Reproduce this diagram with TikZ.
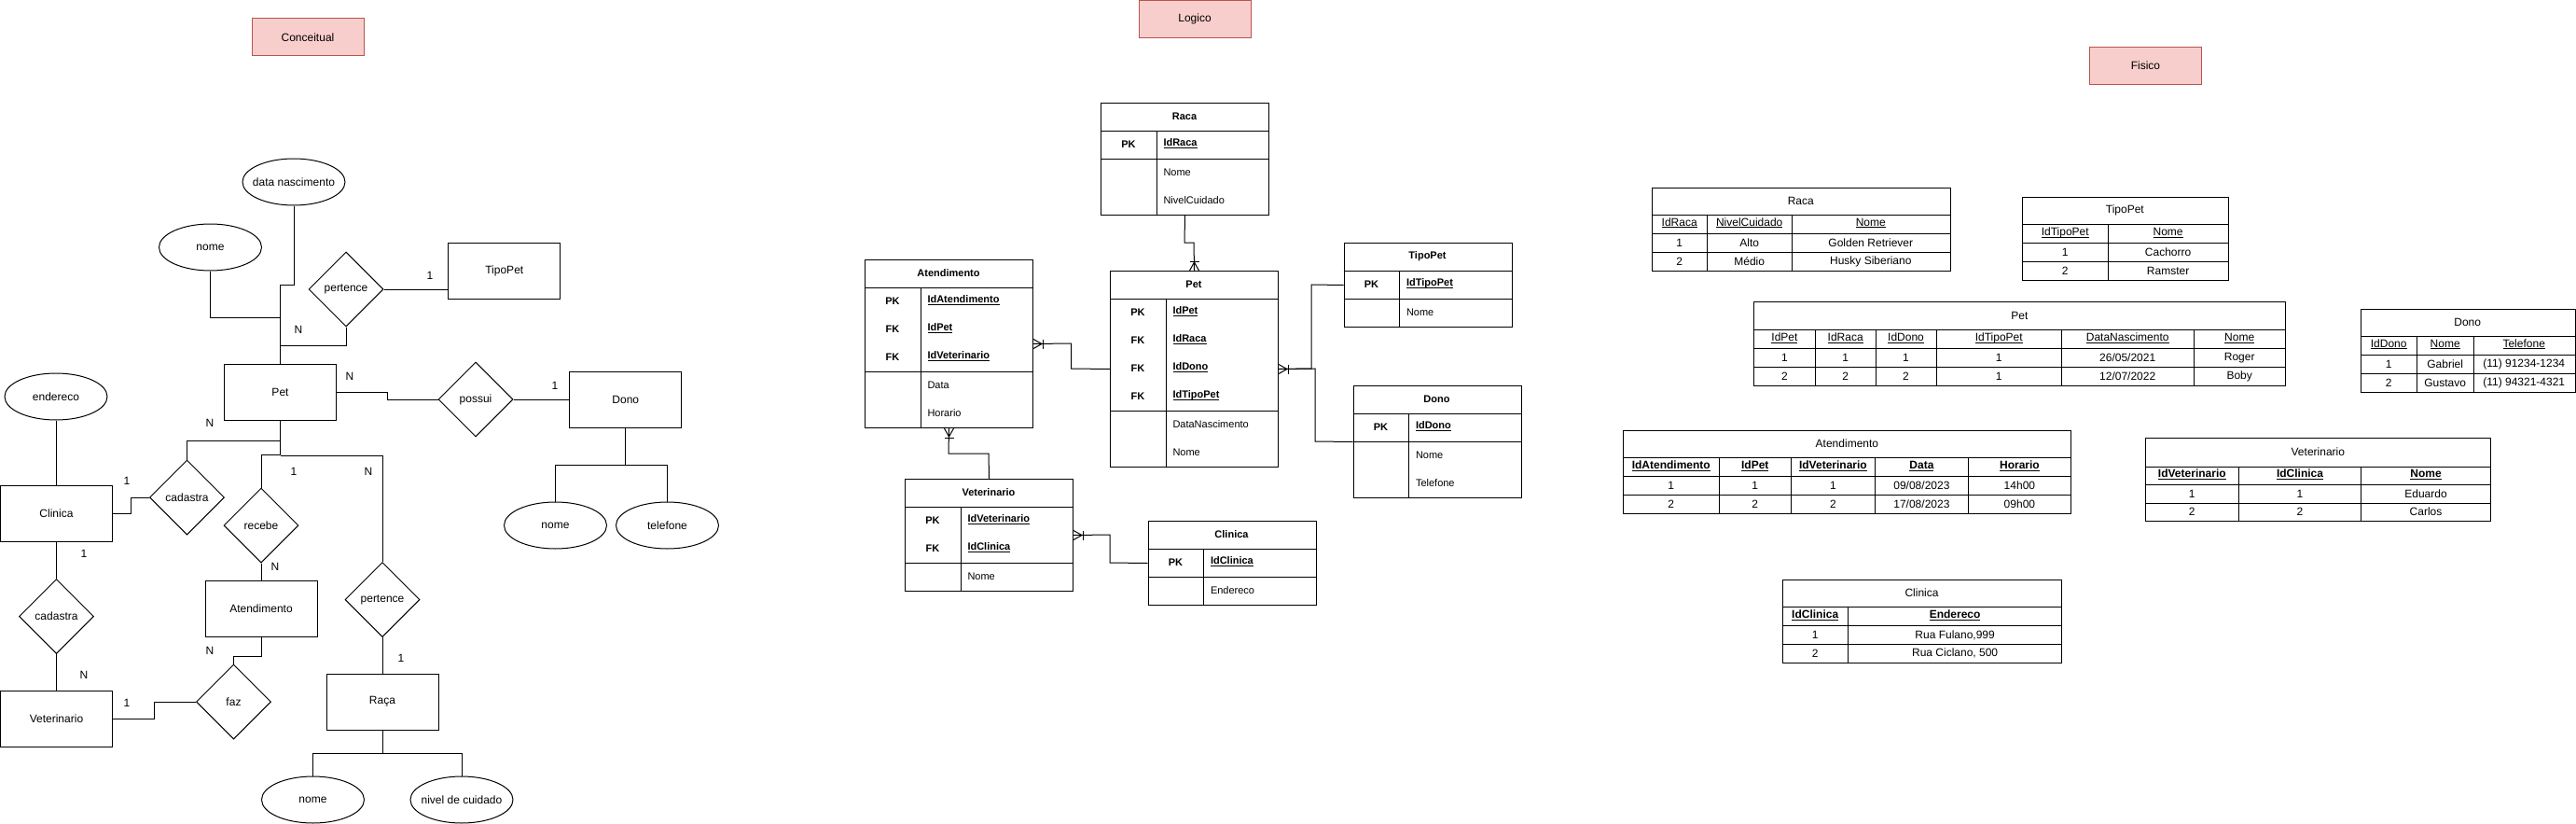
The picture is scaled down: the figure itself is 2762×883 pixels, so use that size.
\documentclass[tikz,border=0pt]{standalone}
\usepackage{fontspec}
\setmainfont{Liberation Sans}
\usetikzlibrary{shapes.geometric}
\definecolor{pinkfill}{HTML}{F8CECC}
\definecolor{pinkdraw}{HTML}{B85450}
\newcommand\uln[1]{\underline{\smash{#1}\vphantom{x}}}
\newcommand\bul[1]{\textbf{\uln{#1}}}
\begin{document}
\begin{tikzpicture}[x=1pt,y=-1pt,line width=1pt,
 ent/.style={draw, rectangle, minimum width=120pt, minimum height=60pt, inner sep=0pt, font=\fontsize{12}{14}\selectfont},
 attr/.style={draw, ellipse, minimum width=110pt, minimum height=50pt, inner sep=0pt, font=\fontsize{12}{14}\selectfont},
 rel/.style={draw, diamond, minimum width=80pt, minimum height=80pt, inner sep=0pt, font=\fontsize{12}{14}\selectfont},
 card/.style={inner sep=0pt, font=\fontsize{12}{14}\selectfont},
 ttl/.style={draw=pinkdraw, fill=pinkfill, minimum width=120pt, minimum height=40pt, inner sep=0pt, font=\fontsize{12}{14}\selectfont},
 ltab/.style={draw, rectangle, minimum width=180pt, inner sep=0pt, anchor=north west},
 lhead/.style={inner sep=0pt, font=\fontsize{11}{13}\selectfont\bfseries},
 lkey/.style={inner sep=0pt, font=\fontsize{11}{13}\selectfont\bfseries},
 lfld/.style={inner sep=0pt, anchor=west, font=\fontsize{11}{13}\selectfont},
 ptab/.style={draw, rectangle, inner sep=0pt, anchor=north west},
 ptxt/.style={inner sep=0pt, font=\fontsize{12}{14}\selectfont},
 crow/.pic={\draw (0,-5) -- (9,0) -- (0,5); \draw (10,-5) -- (10,5);}
]
\useasboundingbox (0,0) rectangle (2762,883);

% ---------- titles
\node[ttl] (tcon) at (330,40) {Conceitual};
\node[ttl] (tlog) at (1281,20.8) {Logico};
\node[ttl] (tfis) at (2300.4,70.3) {Fisico};

% ---------- conceptual
\node[attr] (cdn) at (315,195) {\makebox[0pt]{data nascimento}};
\node[attr] (cnome) at (225.5,265) {\makebox[0pt]{nome}};
\node[rel] (cpert1) at (371,310) {\makebox[0pt]{pertence}};
\node[ent] (ctipo) at (540.8,290) {TipoPet};
\node[ent] (cpet) at (300.5,420) {Pet};
\node[rel] (cposs) at (510,428) {\makebox[0pt]{possui}};
\node[ent] (cdono) at (670.8,428) {Dono};
\node[attr] (cend) at (60,425) {\makebox[0pt]{endereco}};
\node[rel] (ccad1) at (200.5,533) {\makebox[0pt]{cadastra}};
\node[ent] (cclin) at (60.5,550) {Clinica};
\node[rel] (ccad2) at (60.5,660.5) {\makebox[0pt]{cadastra}};
\node[ent] (cvet) at (60.5,770) {Veterinario};
\node[rel] (cfaz) at (250.5,752) {\makebox[0pt]{faz}};
\node[ent] (catend) at (280,652) {Atendimento};
\node[rel] (creceb) at (280,563) {\makebox[0pt]{recebe}};
\node[rel] (cpert2) at (410,642.5) {\makebox[0pt]{pertence}};
\node[ent] (craca) at (410,752) {Raça};
\node[attr] (cnome2) at (335.5,857) {\makebox[0pt]{nome}};
\node[attr] (cnivel) at (495,857) {\makebox[0pt]{nivel de cuidado}};
\node[attr] (cnome3) at (595.5,563) {\makebox[0pt]{nome}};
\node[attr] (ctel) at (715.5,563) {\makebox[0pt]{telefone}};

\draw (cnome.south) -- (225.5,340) -- (300.5,340);
\draw (cdn.south) -- (315,305) -- (300.5,305) -- (cpet.north);
\draw (cpert1.south) -- (371,370) -- (300.5,370);
\draw (cpert1.east) -- (cpert1.east -| ctipo.west);
\draw (cpet.east) -- (415,420) -- (415,428) -- (cposs.west);
\draw (cposs.east) -- (cdono.west);
\draw (cdono.south) -- (670.8,498);
\draw (cnome3.north) -- (595.5,498) -- (715.5,498) -- (ctel.north);
\draw (cend.south) -- (cend.south |- cclin.north);
\draw (cpet.south) -- (300.5,488);
\draw (ccad1.north) |- (300.5,472);
\draw (creceb.north) |- (300.5,487);
\draw (cpert2.north) |- (300.5,488);
\draw (cclin.east) -- (140,550) -- (140,533) -- (ccad1.west);
\draw (cclin.south) -- (ccad2.north);
\draw (ccad2.south) -- (cvet.north);
\draw (cvet.east) -- (165,770) -- (165,752) -- (cfaz.west);
\draw (cfaz.north) -- (250.5,703) -- (280,703) -- (catend.south);
\draw (creceb.south) -- (catend.north);
\draw (cpert2.south) -- (craca.north);
\draw (craca.south) -- (410,807);
\draw (cnome2.north) -- (335.5,807) -- (495,807) -- (cnivel.north);

\node[card] (k1) at (461,295) {1};
\node[card] (k2) at (320,353) {N};
\node[card] (k3) at (375,403) {N};
\node[card] (k4) at (595,413) {1};
\node[card] (k5) at (225,453) {N};
\node[card] (k6) at (136,515) {1};
\node[card] (k7) at (90,593) {1};
\node[card] (k8) at (90,723) {N};
\node[card] (k9) at (136,753) {1};
\node[card] (k10) at (225,697) {N};
\node[card] (k11) at (295,607) {N};
\node[card] (k12) at (315,505) {1};
\node[card] (k13) at (395,505) {N};
\node[card] (k14) at (430,705) {1};

% ---------- logical
% Raca
\node[ltab, minimum height=120pt] (lraca) at (1180,110) {};
\draw (1180,140) -- (1360,140); \draw (1180,170) -- (1360,170); \draw (1240,140) -- (1240,230);
\node[lhead] (lracaT) at (1270,125) {Raca};
\node[lkey] (lracaK1) at (1210,155) {PK};
\node[lfld] (lracaF1) at (1247,155) {\bul{IdRaca}};
\node[lfld] (lracaF2) at (1247,185) {Nome};
\node[lfld] (lracaF3) at (1247,215) {NivelCuidado};
% Pet
\node[ltab, minimum height=210pt] (lpet) at (1190,290) {};
\draw (1190,320) -- (1370,320); \draw (1190,440) -- (1370,440); \draw (1250,320) -- (1250,500);
\node[lhead] (lpetT) at (1280,305) {Pet};
\foreach \y/\k/\f [count=\i] in {335/PK/IdPet,365/FK/IdRaca,395/FK/IdDono,425/FK/IdTipoPet}{
  \node[lkey] (lpetK\i) at (1220,\y) {\k};
  \node[lfld] (lpetF\i) at (1257,\y) {\bul{\f}};}
\node[lfld] (lpetF5) at (1257,455) {DataNascimento};
\node[lfld] (lpetF6) at (1257,485) {Nome};
% Atendimento
\node[ltab, minimum height=180pt] (latend) at (927,278) {};
\draw (927,308) -- (1107,308); \draw (927,398) -- (1107,398); \draw (987,308) -- (987,458);
\node[lhead] (latendT) at (1017,293) {Atendimento};
\foreach \y/\k/\f [count=\i] in {323/PK/IdAtendimento,353/FK/IdPet,383/FK/IdVeterinario}{
  \node[lkey] (latendK\i) at (957,\y) {\k};
  \node[lfld] (latendF\i) at (994,\y) {\bul{\f}};}
\node[lfld] (latendF4) at (994,413) {Data};
\node[lfld] (latendF5) at (994,443) {Horario};
% TipoPet
\node[ltab, minimum height=90pt] (ltipo) at (1440.5,260) {};
\draw (1440.5,290) -- (1620.5,290); \draw (1440.5,320) -- (1620.5,320); \draw (1500.5,290) -- (1500.5,350);
\node[lhead] (ltipoT) at (1530.5,275) {TipoPet};
\node[lkey] (ltipoK1) at (1470.5,305) {PK};
\node[lfld] (ltipoF1) at (1507.5,305) {\bul{IdTipoPet}};
\node[lfld] (ltipoF2) at (1507.5,335) {Nome};
% Dono
\node[ltab, minimum height=120pt] (ldono) at (1450.5,413) {};
\draw (1450.5,443) -- (1630.5,443); \draw (1450.5,473) -- (1630.5,473); \draw (1510.5,443) -- (1510.5,533);
\node[lhead] (ldonoT) at (1540.5,428) {Dono};
\node[lkey] (ldonoK1) at (1480.5,458) {PK};
\node[lfld] (ldonoF1) at (1517.5,458) {\bul{IdDono}};
\node[lfld] (ldonoF2) at (1517.5,488) {Nome};
\node[lfld] (ldonoF3) at (1517.5,518) {Telefone};
% Veterinario
\node[ltab, minimum height=120pt] (lvet) at (970,513) {};
\draw (970,543) -- (1150,543); \draw (970,603) -- (1150,603); \draw (1030,543) -- (1030,633);
\node[lhead] (lvetT) at (1060,528) {Veterinario};
\node[lkey] (lvetK1) at (1000,558) {PK};
\node[lfld] (lvetF1) at (1037,558) {\bul{IdVeterinario}};
\node[lkey] (lvetK2) at (1000,588) {FK};
\node[lfld] (lvetF2) at (1037,588) {\bul{IdClinica}};
\node[lfld] (lvetF3) at (1037,618) {Nome};
% Clinica
\node[ltab, minimum height=90pt] (lclin) at (1230.5,558) {};
\draw (1230.5,588) -- (1410.5,588); \draw (1230.5,618) -- (1410.5,618); \draw (1290.5,588) -- (1290.5,648);
\node[lhead] (lclinT) at (1320.5,573) {Clinica};
\node[lkey] (lclinK1) at (1260.5,603) {PK};
\node[lfld] (lclinF1) at (1297.5,603) {\bul{IdClinica}};
\node[lfld] (lclinF2) at (1297.5,633) {Endereco};

% logical connectors
\draw (lraca.south) -- (1270,260) -- (1280,260) -- (lpet.north);
\draw (lpet.west) -- (1148.7,395) -- (1148.7,368) -- (latend.east);
\draw (lpet.east) -- (1406,395) -- (1406,305) -- (ltipo.west);
\draw (lpet.east) -- (1410,395) -- (1410,473) -- (ldono.west);
\draw (latend.south) -- (1017,486) -- (1060,486) -- (lvet.north);
\draw (lvet.east) -- (1190,573) -- (1190,603) -- (lclin.west);
\pic[rotate=90] at (lpet.north) {crow};
\pic at (latend.east) {crow};
\pic at (lpet.east) {crow};
\pic[rotate=-90] at (latend.south) {crow};
\pic at (lvet.east) {crow};

% ---------- physical
% Raca
\node[ptab, minimum width=319.6pt, minimum height=89.3pt] (praca) at (1771,200.7) {};
\foreach \y in {230,250,270} \draw (1771,\y) -- (2090.6,\y);
\foreach \x in {1830.4,1921} \draw (\x,230) -- (\x,290);
\node[ptxt] (pracaT) at (1930.8,215.3) {Raca};
\foreach \x/\t [count=\i] in {1800.7/IdRaca,1875.7/NivelCuidado,2005.8/Nome} \node[ptxt] (pracaH\i) at (\x,240) {\uln{\t}};
\foreach \x/\t [count=\i] in {1800.7/1,1875.7/Alto,2005.8/Golden Retriever} \node[ptxt] (pracaA\i) at (\x,260) {\t};
\foreach \x/\t [count=\i] in {1800.7/2,1875.7/Médio,2005.8/Husky Siberiano} \node[ptxt] (pracaB\i) at (\x,280) {\t};
% TipoPet
\node[ptab, minimum width=220.7pt, minimum height=89.3pt] (ptipo) at (2168,210.7) {};
\foreach \y in {240.7,260.7,280.7} \draw (2168,\y) -- (2388.7,\y);
\draw (2260.5,240.7) -- (2260.5,300);
\node[ptxt] (ptipoT) at (2278.3,225.7) {TipoPet};
\foreach \x/\t [count=\i] in {2214.2/IdTipoPet,2324.6/Nome} \node[ptxt] (ptipoH\i) at (\x,250.7) {\uln{\t}};
\foreach \x/\t [count=\i] in {2214.2/1,2324.6/Cachorro} \node[ptxt] (ptipoA\i) at (\x,270.7) {\t};
\foreach \x/\t [count=\i] in {2214.2/2,2324.6/Ramster} \node[ptxt] (ptipoB\i) at (\x,290.3) {\t};
% Pet
\node[ptab, minimum width=570pt, minimum height=90pt] (ppet) at (1880.4,323.3) {};
\foreach \y in {353.3,373.3,393.3} \draw (1880.4,\y) -- (2450.4,\y);
\foreach \x in {1946.4,2011,2076,2210.5,2352} \draw (\x,353.3) -- (\x,413.3);
\node[ptxt] (ppetT) at (2165.4,338.3) {Pet};
\foreach \x/\t [count=\i] in {1913.4/IdPet,1978.7/IdRaca,2043.5/IdDono,2143.2/IdTipoPet,2281.2/DataNascimento,2401.2/Nome} \node[ptxt] (ppetH\i) at (\x,363.3) {\uln{\t}};
\foreach \x/\t [count=\i] in {1913.4/1,1978.7/1,2043.5/1,2143.2/1,2281.2/26\slash 05\slash 2021,2401.2/Roger} \node[ptxt] (ppetA\i) at (\x,383.3) {\t};
\foreach \x/\t [count=\i] in {1913.4/2,1978.7/2,2043.5/2,2143.2/1,2281.2/12\slash 07\slash 2022,2401.2/Boby} \node[ptxt] (ppetB\i) at (\x,403.3) {\t};
% Dono
\node[ptab, minimum width=229.5pt, minimum height=89.3pt] (pdono) at (2531,330.7) {};
\foreach \y in {360,380,400} \draw (2531,\y) -- (2760.5,\y);
\foreach \x in {2591.4,2652} \draw (\x,360) -- (\x,420);
\node[ptxt] (pdonoT) at (2645.7,345.3) {Dono};
\foreach \x/\t [count=\i] in {2561.2/IdDono,2621.7/Nome,2706.2/Telefone} \node[ptxt] (pdonoH\i) at (\x,370) {\uln{\t}};
\foreach \x/\t [count=\i] in {2561.2/1,2621.7/Gabriel,2706.2/(11) 91234-1234} \node[ptxt] (pdonoA\i) at (\x,390) {\t};
\foreach \x/\t [count=\i] in {2561.2/2,2621.7/Gustavo,2706.2/(11) 94321-4321} \node[ptxt] (pdonoB\i) at (\x,410) {\t};
% Atendimento
\node[ptab, minimum width=480pt, minimum height=89.3pt] (patend) at (1740.4,460.7) {};
\foreach \y in {490.7,510.7,530.7} \draw (1740.4,\y) -- (2220.4,\y);
\foreach \x in {1843.2,1920.4,2010.4,2110.4} \draw (\x,490.7) -- (\x,550);
\node[ptxt] (patendT) at (1980.4,475.7) {Atendimento};
\foreach \x/\t [count=\i] in {1791.8/IdAtendimento,1881.8/IdPet,1965.4/IdVeterinario,2060.4/Data,2165.4/Horario} \node[ptxt] (patendH\i) at (\x,500.7) {\bul{\t}};
\foreach \x/\t [count=\i] in {1791.8/1,1881.8/1,1965.4/1,2060.4/09\slash 08\slash 2023,2165.4/14h00} \node[ptxt] (patendA\i) at (\x,520.7) {\t};
\foreach \x/\t [count=\i] in {1791.8/2,1881.8/2,1965.4/2,2060.4/17\slash 08\slash 2023,2165.4/09h00} \node[ptxt] (patendB\i) at (\x,540.3) {\t};
% Clinica
\node[ptab, minimum width=299.7pt, minimum height=89.3pt] (pclin) at (1910.7,620.7) {};
\foreach \y in {650.7,670.7,690.7} \draw (1910.7,\y) -- (2210.4,\y);
\draw (1981.8,650.7) -- (1981.8,710);
\node[ptxt] (pclinT) at (2060.5,635.7) {Clinica};
\foreach \x/\t [count=\i] in {1946.2/IdClinica,2096.1/Endereco} \node[ptxt] (pclinH\i) at (\x,660.7) {\bul{\t}};
\foreach \x/\t [count=\i] in {1946.2/1,2096.1/{Rua Fulano,999}} \node[ptxt] (pclinA\i) at (\x,680.7) {\t};
\foreach \x/\t [count=\i] in {1946.2/2,2096.1/{Rua Ciclano, 500}} \node[ptxt] (pclinB\i) at (\x,700.3) {\t};
% Veterinario
\node[ptab, minimum width=370pt, minimum height=89.6pt] (pvet) at (2300.3,468.7) {};
\foreach \y in {500,519.5,539} \draw (2300.3,\y) -- (2670.3,\y);
\foreach \x in {2400.3,2531.7} \draw (\x,500) -- (\x,558.3);
\node[ptxt] (pvetT) at (2485.3,484.3) {Veterinario};
\foreach \x/\t [count=\i] in {2350.3/IdVeterinario,2466/IdClinica,2601/Nome} \node[ptxt] (pvetH\i) at (\x,509.8) {\bul{\t}};
\foreach \x/\t [count=\i] in {2350.3/1,2466/1,2601/Eduardo} \node[ptxt] (pvetA\i) at (\x,529.3) {\t};
\foreach \x/\t [count=\i] in {2350.3/2,2466/2,2601/Carlos} \node[ptxt] (pvetB\i) at (\x,548.7) {\t};
\end{tikzpicture}
\end{document}
